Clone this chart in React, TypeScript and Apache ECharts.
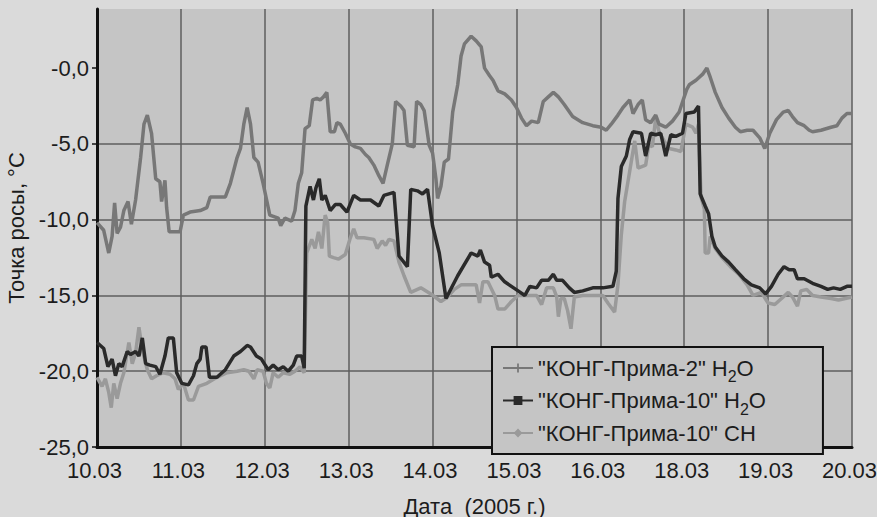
import React, { useEffect, useRef } from 'react';
import * as echarts from 'echarts';

const xLabels = ['10.03', '11.03', '12.03', '13.03', '14.03', '15.03', '16.03', '18.03', '19.03', '20.03'];
const yTicks = [-25, -20, -15, -10, -5, 0];
const seriesNames = ['"КОНГ-Прима-2" H2O', '"КОНГ-Прима-10" H2O', '"КОНГ-Прима-10" CH'];
const legendLabels = ['"КОНГ-Прима-2" H{s|2}O', '"КОНГ-Прима-10" H{s|2}O', '"КОНГ-Прима-10" CH'];

// [day index from 10.03, dew point °C]
const prima2H2O: [number, number][] = [
  [0.00, -10.2], [0.08, -10.7], [0.14, -12.2], [0.18, -11.1], [0.21, -8.9], [0.24, -10.9], [0.28, -10.5],
  [0.32, -9.4], [0.37, -8.8], [0.41, -10.3], [0.46, -8.7], [0.52, -5.9], [0.56, -3.7], [0.60, -3.1],
  [0.65, -4.3], [0.70, -7.3], [0.75, -7.5], [0.77, -8.8], [0.81, -7.4], [0.83, -9.2], [0.86, -10.8],
  [0.99, -10.8], [1.03, -9.7], [1.11, -9.5], [1.23, -9.4], [1.31, -9.2], [1.35, -8.5], [1.53, -8.5],
  [1.59, -7.6], [1.67, -5.9], [1.71, -5.3], [1.75, -3.7], [1.79, -2.6], [1.83, -3.7], [1.87, -5.9],
  [1.92, -6.2], [1.98, -7.6], [2.06, -9.7], [2.16, -9.9], [2.19, -10.4], [2.24, -9.9], [2.32, -10.1],
  [2.36, -9.4], [2.40, -7.6], [2.44, -6.9], [2.48, -4.0], [2.53, -3.8], [2.57, -2.1], [2.62, -2.0],
  [2.66, -2.1], [2.70, -1.9], [2.74, -1.6], [2.78, -4.2], [2.83, -4.2], [2.86, -3.6], [2.90, -3.7],
  [2.96, -4.3], [3.02, -5.0], [3.08, -5.2], [3.14, -5.3], [3.20, -5.7], [3.24, -5.9], [3.30, -6.4],
  [3.36, -7.1], [3.41, -7.6], [3.46, -6.4], [3.52, -5.0], [3.56, -2.2], [3.62, -2.5], [3.66, -2.8],
  [3.70, -5.1], [3.78, -5.2], [3.81, -2.2], [3.86, -2.4], [3.90, -2.8], [3.96, -5.1], [4.00, -5.6],
  [4.04, -7.3], [4.06, -8.6], [4.10, -7.8], [4.14, -6.2], [4.19, -6.0], [4.24, -2.9], [4.30, -1.1],
  [4.34, 0.8], [4.38, 1.6], [4.46, 2.1], [4.52, 1.8], [4.58, 1.4], [4.62, 0.0], [4.68, -0.5],
  [4.72, -0.8], [4.78, -1.5], [4.86, -1.7], [4.94, -2.1], [5.00, -2.6], [5.06, -3.3], [5.12, -3.8],
  [5.18, -3.5], [5.26, -3.6], [5.32, -2.2], [5.38, -1.9], [5.44, -1.6], [5.50, -1.9], [5.57, -2.4],
  [5.67, -3.2], [5.79, -3.6], [5.91, -3.8], [6.01, -3.9], [6.07, -4.1], [6.13, -3.7], [6.21, -3.1],
  [6.27, -2.6], [6.35, -2.1], [6.39, -3.0], [6.45, -2.4], [6.50, -2.1], [6.54, -3.4], [6.60, -3.6],
  [6.66, -3.1], [6.70, -3.7], [6.78, -3.9], [6.86, -3.5], [6.94, -2.9], [7.03, -1.4], [7.06, -1.1],
  [7.14, -0.8], [7.22, -0.4], [7.27, 0.0], [7.31, -0.6], [7.37, -1.6], [7.45, -2.6], [7.53, -3.3],
  [7.61, -3.9], [7.67, -4.2], [7.75, -4.1], [7.82, -4.1], [7.90, -4.6], [7.96, -5.3], [8.02, -4.3],
  [8.10, -3.4], [8.18, -2.9], [8.24, -2.8], [8.29, -3.2], [8.35, -3.6], [8.43, -3.8], [8.49, -4.1],
  [8.53, -4.2], [8.63, -4.1], [8.75, -3.9], [8.82, -3.8], [8.88, -3.3], [8.94, -3.0], [9.00, -3.0],
];

const prima10H2O: [number, number][] = [
  [0.00, -18.1], [0.08, -18.5], [0.13, -19.7], [0.18, -19.2], [0.22, -20.3], [0.26, -19.5], [0.30, -19.7],
  [0.36, -18.7], [0.40, -18.9], [0.46, -18.7], [0.50, -19.0], [0.54, -17.8], [0.58, -19.5], [0.63, -19.6],
  [0.70, -19.7], [0.75, -20.2], [0.81, -19.0], [0.85, -17.8], [0.91, -17.8], [0.95, -20.1], [1.01, -20.8],
  [1.09, -20.9], [1.15, -20.3], [1.19, -19.5], [1.23, -19.2], [1.25, -18.4], [1.30, -18.4], [1.34, -20.4],
  [1.43, -20.4], [1.53, -19.9], [1.63, -19.0], [1.71, -18.7], [1.79, -18.3], [1.83, -18.4], [1.90, -19.0],
  [1.96, -19.2], [2.04, -19.9], [2.10, -19.6], [2.16, -19.9], [2.22, -19.7], [2.28, -20.0], [2.34, -19.6],
  [2.38, -19.0], [2.44, -19.0], [2.47, -19.8], [2.49, -9.1], [2.54, -7.8], [2.58, -8.7], [2.61, -7.9],
  [2.65, -7.3], [2.68, -8.7], [2.72, -8.4], [2.78, -9.4], [2.84, -9.0], [2.90, -9.0], [2.98, -9.5],
  [3.06, -8.4], [3.14, -8.7], [3.26, -8.7], [3.36, -9.1], [3.42, -8.4], [3.48, -8.3], [3.54, -8.2],
  [3.60, -12.4], [3.70, -13.1], [3.74, -8.0], [3.82, -8.1], [3.88, -8.3], [3.94, -8.0], [4.00, -10.4],
  [4.08, -12.2], [4.16, -15.2], [4.30, -13.7], [4.46, -12.2], [4.54, -12.4], [4.57, -12.0], [4.62, -12.8],
  [4.68, -13.0], [4.70, -13.8], [4.78, -13.6], [4.86, -14.1], [4.94, -14.4], [5.02, -14.7], [5.10, -15.0],
  [5.16, -14.4], [5.24, -14.5], [5.30, -14.0], [5.38, -14.0], [5.44, -13.6], [5.48, -14.0], [5.55, -14.0],
  [5.63, -14.5], [5.69, -14.8], [5.79, -14.7], [5.91, -14.5], [6.03, -14.5], [6.15, -14.4], [6.19, -13.4],
  [6.21, -8.6], [6.25, -6.5], [6.31, -5.8], [6.35, -4.7], [6.39, -4.2], [6.49, -4.3], [6.54, -5.8],
  [6.60, -4.3], [6.66, -4.4], [6.72, -4.3], [6.78, -5.8], [6.84, -4.4], [6.90, -4.5], [6.98, -4.3],
  [7.02, -3.0], [7.12, -2.9], [7.17, -2.5], [7.19, -8.3], [7.22, -8.7], [7.25, -9.1], [7.29, -9.6],
  [7.33, -11.1], [7.37, -11.8], [7.45, -12.4], [7.53, -12.8], [7.61, -13.3], [7.71, -13.9], [7.80, -14.3],
  [7.90, -14.5], [7.97, -14.9], [8.04, -14.4], [8.12, -13.6], [8.19, -13.1], [8.25, -13.3], [8.31, -13.3],
  [8.35, -13.9], [8.43, -13.9], [8.53, -14.2], [8.63, -14.4], [8.71, -14.6], [8.78, -14.5], [8.86, -14.6],
  [8.94, -14.4], [9.00, -14.4],
];

const prima10CH: [number, number][] = [
  [0.00, -20.4], [0.06, -21.0], [0.10, -20.5], [0.14, -21.4], [0.17, -22.4], [0.20, -20.8], [0.24, -21.8],
  [0.28, -20.8], [0.32, -20.1], [0.38, -18.1], [0.42, -19.5], [0.46, -18.8], [0.50, -17.1], [0.54, -18.6],
  [0.60, -19.9], [0.65, -20.5], [0.71, -20.3], [0.79, -20.1], [0.87, -20.2], [0.93, -20.5], [0.97, -21.2],
  [1.03, -20.8], [1.09, -21.9], [1.15, -21.9], [1.21, -21.0], [1.31, -20.8], [1.43, -20.4], [1.55, -20.1],
  [1.67, -20.0], [1.75, -19.9], [1.81, -20.0], [1.87, -20.5], [1.91, -19.9], [1.98, -20.0], [2.02, -20.8],
  [2.06, -21.1], [2.10, -20.1], [2.16, -20.4], [2.22, -20.1], [2.30, -20.2], [2.36, -20.0], [2.42, -19.7],
  [2.47, -20.1], [2.50, -12.2], [2.56, -11.3], [2.60, -11.9], [2.64, -10.8], [2.68, -11.9], [2.72, -9.7],
  [2.75, -10.2], [2.77, -12.4], [2.82, -12.5], [2.88, -12.6], [2.96, -12.3], [3.02, -11.2], [3.06, -10.6],
  [3.10, -11.2], [3.18, -11.2], [3.30, -11.3], [3.34, -11.9], [3.40, -11.4], [3.44, -11.7], [3.48, -11.3],
  [3.54, -11.4], [3.60, -12.8], [3.66, -13.7], [3.74, -14.8], [3.86, -14.5], [3.98, -14.9], [4.10, -15.4],
  [4.18, -15.1], [4.26, -14.6], [4.34, -14.3], [4.52, -14.3], [4.56, -15.5], [4.60, -14.1], [4.66, -14.1],
  [4.74, -15.0], [4.78, -15.9], [4.86, -15.9], [4.94, -15.4], [5.02, -15.0], [5.16, -15.0], [5.24, -15.0],
  [5.30, -15.6], [5.36, -14.5], [5.44, -14.5], [5.48, -15.1], [5.50, -16.4], [5.53, -15.2], [5.57, -15.2],
  [5.61, -16.0], [5.65, -17.2], [5.69, -15.1], [5.79, -15.0], [5.91, -15.0], [6.03, -15.0], [6.09, -15.5],
  [6.17, -16.1], [6.21, -14.3], [6.25, -11.0], [6.29, -8.8], [6.35, -6.8], [6.41, -4.8], [6.45, -6.6],
  [6.54, -6.4], [6.58, -5.0], [6.62, -5.2], [6.66, -3.3], [6.70, -4.2], [6.76, -4.8], [6.82, -5.3],
  [6.90, -5.4], [6.96, -5.5], [7.02, -3.7], [7.10, -3.9], [7.14, -4.3], [7.17, -3.7], [7.20, -8.5],
  [7.24, -9.3], [7.25, -12.2], [7.29, -12.2], [7.31, -11.1], [7.37, -11.9], [7.45, -12.5], [7.55, -13.1],
  [7.65, -13.6], [7.75, -14.3], [7.82, -15.0], [7.92, -14.8], [8.00, -15.5], [8.08, -15.6], [8.16, -15.2],
  [8.24, -14.8], [8.29, -15.1], [8.35, -15.7], [8.39, -14.7], [8.46, -14.6], [8.53, -15.0], [8.63, -15.1],
  [8.75, -15.2], [8.84, -15.3], [8.92, -15.2], [9.00, -15.1],
];

const FONT = '"Liberation Sans", Arial, sans-serif';
const TEXT = '#1c1c1c';
const PLOT_BG = '#c5c5c5';
const GRID_LINE = '#5e5e5e';
const FS = 22;

export default function App() {
  const ref = useRef<HTMLDivElement>(null);

  useEffect(() => {
    if (!ref.current) return;
    const chart = echarts.init(ref.current, undefined, { renderer: 'svg' });
    const colors = ['#777777', '#2a2a2a', '#9a9a9a'];
    const symbols = [
      'path://M4,0H6V4H10V6H6V10H4V6H0V4H4Z',
      'rect',
      'diamond',
    ];
    const datasets = [prima2H2O, prima10H2O, prima10CH];
    const zs = [4, 5, 3];

    chart.setOption({
      animation: false,
      backgroundColor: '#dadada',
      textStyle: { fontFamily: FONT },
      grid: {
        left: 97,
        right: 25,
        top: 9,
        bottom: 70,
        show: true,
        backgroundColor: PLOT_BG,
        borderWidth: 0,
        containLabel: false,
        outerBoundsMode: 'none',
      },
      legend: {
        data: seriesNames,
        orient: 'vertical',
        left: 492,
        top: 347,
        itemWidth: 30,
        itemHeight: 11,
        itemGap: 5,
        padding: [10, 57, 10, 10],
        borderColor: '#111',
        borderWidth: 2,
        backgroundColor: PLOT_BG,
        selectedMode: false,
        formatter: (name: string) => legendLabels[seriesNames.indexOf(name)],
        textStyle: {
          fontFamily: FONT,
          fontSize: FS,
          color: TEXT,
          lineHeight: 22,
          rich: {
            s: { fontFamily: FONT, fontSize: 16, color: TEXT, height: 5, lineHeight: 5, verticalAlign: 'bottom' },
          },
        },
      },
      xAxis: {
        type: 'value',
        min: 0,
        max: 9,
        interval: 1,
        name: 'Дата  (2005 г.)',
        nameLocation: 'middle',
        nameGap: 48,
        nameTextStyle: { fontFamily: FONT, fontSize: FS, color: TEXT },
        axisLine: { show: true, onZero: false, lineStyle: { color: '#111', width: 3 } },
        axisTick: { show: false },
        axisLabel: {
          fontFamily: FONT,
          fontSize: FS,
          color: TEXT,
          margin: 12,
          padding: [0, 5, 0, 0],
          formatter: (v: number) => xLabels[Math.round(v)] ?? '',
        },
        splitLine: { show: true, lineStyle: { color: GRID_LINE, width: 1.5 } },
      },
      yAxis: {
        type: 'value',
        min: -25,
        max: 3.9,
        interval: 5,
        name: 'Точка росы, °C',
        nameLocation: 'middle',
        nameGap: 64,
        nameTextStyle: { fontFamily: FONT, fontSize: FS, color: TEXT },
        axisLine: { show: true, onZero: false, lineStyle: { color: '#111', width: 3 } },
        axisTick: { show: true, inside: false, length: 5, customValues: yTicks, lineStyle: { color: '#111', width: 1.5 } },
        axisLabel: {
          fontFamily: FONT,
          fontSize: FS,
          color: TEXT,
          margin: 8,
          customValues: yTicks,
          formatter: (v: number) => {
            if (Math.abs(v % 5) > 1e-6) return '';
            if (v === 0) return '-0,0';
            return v.toFixed(1).replace('.', ',');
          },
        },
        splitLine: { show: true, showMaxLine: false, lineStyle: { color: GRID_LINE, width: 1.5 } },
      },
      series: datasets.map((d, i) => ({
        name: seriesNames[i],
        type: 'line',
        data: d,
        showSymbol: false,
        symbol: symbols[i],
        symbolSize: 9,
        z: zs[i],
        silent: true,
        lineStyle: { color: colors[i], width: 3.5 },
        itemStyle: { color: colors[i] },
      })),
    });

    return () => chart.dispose();
  }, []);

  return (
    <div
      ref={ref}
      style={{ position: 'absolute', left: 0, top: 0, width: 877, height: 517 }}
    />
  );
}
